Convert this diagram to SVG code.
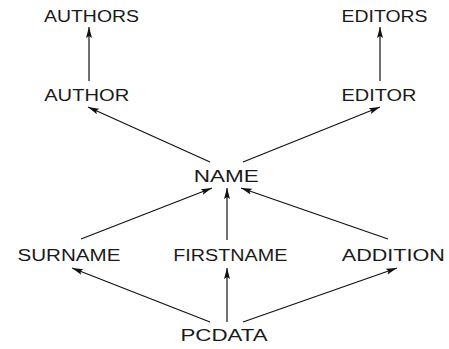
<svg xmlns="http://www.w3.org/2000/svg" width="449" height="349" viewBox="0 0 449 349">
<style>
.lbl{font-family:"Liberation Sans",Arial,sans-serif;font-size:16.8px;fill:#1a1a1a;text-anchor:middle}
.edge{stroke:#111;stroke-width:1.2;fill:none;marker-end:url(#ah)}
</style>
<defs>
<marker id="ah" markerUnits="userSpaceOnUse" markerWidth="12" markerHeight="8" refX="11" refY="3" orient="auto" viewBox="0 0 12 6">
<path d="M0,0 L11,3 L0,6 L2,3 Z" fill="#111"/>
</marker>
</defs>
<rect width="449" height="349" fill="#fff"/>
<g id="connectors">
<line class="edge" x1="89" y1="81" x2="89" y2="27"/>
<line class="edge" x1="380" y1="81" x2="380" y2="27"/>
<line class="edge" x1="210" y1="162" x2="88" y2="107"/>
<line class="edge" x1="243" y1="162" x2="380" y2="107"/>
<line class="edge" x1="81" y1="239" x2="212" y2="188"/>
<line class="edge" x1="227" y1="240" x2="227" y2="188"/>
<line class="edge" x1="388" y1="239" x2="241" y2="188"/>
<line class="edge" x1="210" y1="322" x2="72" y2="268"/>
<line class="edge" x1="227" y1="322" x2="227" y2="268"/>
<line class="edge" x1="243" y1="322" x2="397" y2="268"/>
</g>
<g id="authors"><text class="lbl" x="91.5" y="22" textLength="95" lengthAdjust="spacingAndGlyphs">AUTHORS</text></g>
<g id="editors"><text class="lbl" x="384.5" y="22" textLength="86" lengthAdjust="spacingAndGlyphs">EDITORS</text></g>
<g id="author"><text class="lbl" x="86.7" y="101" textLength="85" lengthAdjust="spacingAndGlyphs">AUTHOR</text></g>
<g id="editor"><text class="lbl" x="379" y="101" textLength="75" lengthAdjust="spacingAndGlyphs">EDITOR</text></g>
<g id="name"><text class="lbl" x="226.3" y="182" textLength="65" lengthAdjust="spacingAndGlyphs">NAME</text></g>
<g id="surname"><text class="lbl" x="69" y="261" textLength="103" lengthAdjust="spacingAndGlyphs">SURNAME</text></g>
<g id="firstname"><text class="lbl" x="230.3" y="261" textLength="114" lengthAdjust="spacingAndGlyphs">FIRSTNAME</text></g>
<g id="addition"><text class="lbl" x="393.3" y="261" textLength="103" lengthAdjust="spacingAndGlyphs">ADDITION</text></g>
<g id="pcdata"><text class="lbl" x="224" y="341" textLength="87" lengthAdjust="spacingAndGlyphs">PCDATA</text></g>
</svg>
